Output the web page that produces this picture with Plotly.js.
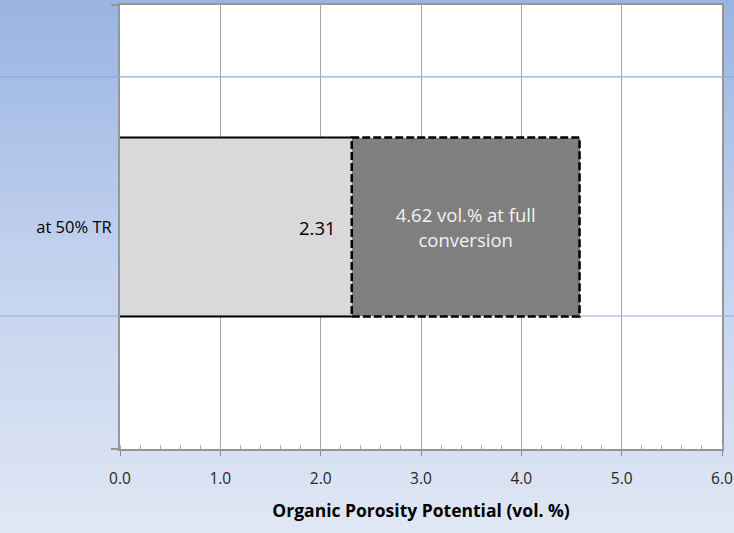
<!DOCTYPE html>
<html>
<head>
<meta charset="utf-8">
<script src="https://cdn.plot.ly/plotly-3.0.1.min.js"></script>
<style>
  html, body { margin: 0; padding: 0; }
  body { width: 734px; height: 533px; background: linear-gradient(to bottom, #99b4e2 0%, #c3d2ee 50%, #e0e7f4 100%); }
  #chart { width: 734px; height: 533px; }
</style>
</head>
<body>
<div id="chart"></div>
<script>
// ---- data ----
const categories = ['at 50% TR'];
const baseValues = [2.31];          // porosity at 50% TR
const extraValues = [2.27];         // additional porosity up to full conversion (bar end read at ~4.58)
const baseLabels = ['2.31'];
const fullLabels = ['4.62 vol.% at full<br>conversion'];
const xTickVals = [0, 1, 2, 3, 4, 5, 6];
const xTickText = ['0.0', '1.0', '2.0', '3.0', '4.0', '5.0', '6.0'];
const xTitle = 'Organic Porosity Potential (vol. %)';

const FONT = "'Open Sans', 'Noto Sans', sans-serif";
const bargap = 0.597;
const half = (1 - bargap) / 2;

const traces = [
  {
    type: 'bar', orientation: 'h',
    y: categories, x: baseValues,
    marker: { color: '#d9d9d9', line: { width: 0 } },
    hoverinfo: 'none', showlegend: false
  },
  {
    type: 'bar', orientation: 'h',
    y: categories, x: extraValues,
    text: fullLabels, textposition: 'inside', insidetextanchor: 'middle',
    textfont: { family: FONT, size: 18.5, color: '#f2f2f2' },
    marker: { color: '#7f7f7f', line: { width: 0 } },
    hoverinfo: 'none', showlegend: false
  }
];

const shapes = [
  { type: 'line', xref: 'paper', yref: 'paper', x0: -0.25, x1: 1.05, y0: 0.838, y1: 0.838,
    line: { color: '#8eaed8', width: 1.2 }, layer: 'above' },
  { type: 'line', xref: 'paper', yref: 'paper', x0: -0.25, x1: 1.05, y0: 0.2995, y1: 0.2995,
    line: { color: '#8eaed8', width: 1.2 }, layer: 'above' }
];
categories.forEach((c, i) => {
  const b = baseValues[i], e = baseValues[i] + extraValues[i];
  shapes.push({ type: 'line', xref: 'x', yref: 'y', x0: 0, x1: b, y0: i + half, y1: i + half,
    line: { color: '#000000', width: 2 }, layer: 'above' });
  shapes.push({ type: 'line', xref: 'x', yref: 'y', x0: 0, x1: b, y0: i - half, y1: i - half,
    line: { color: '#000000', width: 2 }, layer: 'above' });
  shapes.push({ type: 'rect', xref: 'x', yref: 'y', x0: b, x1: e, y0: i - half, y1: i + half,
    line: { color: '#000000', width: 2.5, dash: '8px,3px' }, fillcolor: 'rgba(0,0,0,0)', layer: 'above' });
});

const annotations = categories.map((c, i) => ({
  x: baseValues[i], y: c, xref: 'x', yref: 'y',
  text: baseLabels[i], showarrow: false, xanchor: 'right', xshift: -14,
  font: { family: FONT, size: 18.5, color: '#000000' }
}));

const layout = {
  width: 734, height: 533,
  margin: { l: 120, r: 12, t: 5, b: 84 },
  paper_bgcolor: 'rgba(0,0,0,0)',
  plot_bgcolor: '#ffffff',
  font: { family: FONT, size: 15, color: '#262626' },
  barmode: 'stack',
  bargap: bargap,
  showlegend: false,
  xaxis: {
    range: [0, 6],
    tickvals: xTickVals, ticktext: xTickText,
    ticks: 'outside', ticklen: 5, tickwidth: 1, tickcolor: '#8c8c8c',
    ticklabelstandoff: 9,
    tickfont: { family: FONT, size: 15.5, color: '#262626' },
    showgrid: true, gridcolor: '#a6a6a6', gridwidth: 1,
    minor: { dtick: 0.2, ticks: 'inside', ticklen: 4, tickwidth: 1, tickcolor: '#b0b0b0', showgrid: false },
    showline: true, linecolor: '#969696', linewidth: 2, mirror: true,
    zeroline: false, fixedrange: true,
    title: { text: xTitle, standoff: 17, font: { family: FONT, size: 17.5, color: '#000000', weight: 'bold' } }
  },
  yaxis: {
    type: 'category', range: [-0.5, 0.5],
    tickson: 'boundaries', ticks: 'outside', ticklen: 7, tickwidth: 2, tickcolor: '#969696',
    ticklabelstandoff: 3,
    tickfont: { family: FONT, size: 16.5, color: '#000000' },
    showgrid: false,
    showline: true, linecolor: '#969696', linewidth: 2, mirror: true,
    zeroline: false, fixedrange: true
  },
  shapes: shapes,
  annotations: annotations
};

Plotly.newPlot('chart', traces, layout, { staticPlot: true, displayModeBar: false });
</script>
</body>
</html>
